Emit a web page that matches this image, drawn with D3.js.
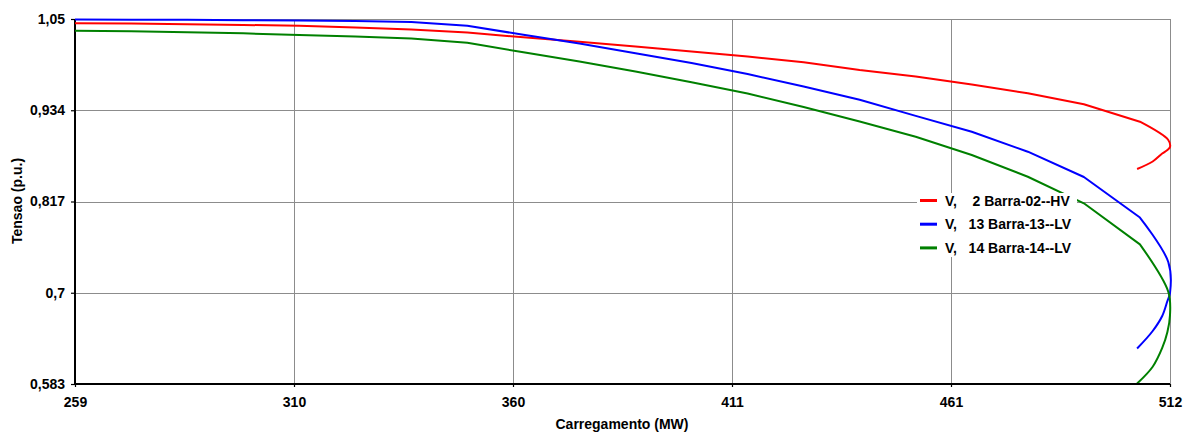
<!DOCTYPE html>
<html>
<head>
<meta charset="utf-8">
<script src="https://cdn.jsdelivr.net/npm/d3@7"></script>
<style>
  html, body { margin: 0; padding: 0; background: #ffffff; }
  svg { display: block; font-family: "Liberation Sans", Arial, sans-serif; }
  text { font-weight: bold; fill: #000; }
</style>
</head>
<body>
<svg id="chart" width="1187" height="432"></svg>
<script>
// Loading steps of the continuation power flow (MW): upper branch, nose, lower branch
const loading = [259, 271.95, 284.9, 297.85, 310.8, 323.75, 336.7, 349.65, 362.6, 375.55,
                 388.5, 401.45, 414.4, 427.35, 440.3, 453.25, 466.2, 479.15, 492.1, 505.05,
                 511.6, 512.0, 511.4, 510.2, 508.0, 504.4];

// Bus voltages (p.u.) at each loading step
const vBus02 = [1.0445, 1.0441, 1.0433, 1.0424, 1.0413, 1.0392, 1.0365, 1.0326, 1.0266, 1.0209,
                1.0149, 1.0084, 1.0020, 0.9947, 0.9847, 0.9764, 0.9662, 0.9549, 0.9409, 0.9186,
                0.8952, 0.8862, 0.8823, 0.8779, 0.8677, 0.8581];
const vBus13 = [1.0493, 1.0492, 1.0490, 1.0485, 1.0480, 1.0474, 1.0462, 1.0414, 1.0298, 1.0186,
                1.0063, 0.9937, 0.9796, 0.9636, 0.9466, 0.9261, 0.9058, 0.8802, 0.8478, 0.7960,
                0.7391, 0.6994, 0.6892, 0.6700, 0.6508, 0.6284];
const vBus14 = [1.0350, 1.0343, 1.0331, 1.0317, 1.0295, 1.0275, 1.0250, 1.0197, 1.0074, 0.9956,
                0.9827, 0.9690, 0.9547, 0.9374, 0.9188, 0.8994, 0.8760, 0.8482, 0.8142, 0.7617,
                0.7011, 0.6713, 0.6495, 0.6291, 0.6051, 0.5836];

const seriesNames = ["V,    2 Barra-02--HV", "V,   13 Barra-13--LV", "V,   14 Barra-14--LV"];
const seriesColors = ["#ff0000", "#0000ff", "#008000"];

const xTickLabels = ["259", "310", "360", "411", "461", "512"];
const yTickLabels = ["0,583", "0,7", "0,817", "0,934", "1,05"];

const xDomain = [259, 512];
const yDomain = [0.583, 1.05];

// Index of the last regular step before the nose region
const noseStart = 19;

const svg = d3.select("#chart");
const plot = { left: 75, right: 1170, top: 19, bottom: 384 };

const x = d3.scaleLinear().domain(xDomain).range([plot.left, plot.right]);
const y = d3.scaleLinear().domain(yDomain).range([plot.bottom, plot.top]);

const xTicks = xTickLabels.map((_, i) => xDomain[0] + i * (xDomain[1] - xDomain[0]) / (xTickLabels.length - 1));
const yTicks = yTickLabels.map((_, i) => yDomain[0] + i * (yDomain[1] - yDomain[0]) / (yTickLabels.length - 1));

const crisp = v => Math.round(v) + 0.5;

// Grid
const grid = svg.append("g").attr("stroke", "#8c8c8c").attr("stroke-width", 1);
grid.selectAll("line.v").data(xTicks.slice(1)).join("line")
  .attr("x1", d => crisp(x(d))).attr("x2", d => crisp(x(d)))
  .attr("y1", plot.top).attr("y2", plot.bottom);
grid.selectAll("line.h").data(yTicks.slice(1)).join("line")
  .attr("y1", d => crisp(y(d))).attr("y2", d => crisp(y(d)))
  .attr("x1", plot.left).attr("x2", plot.right);

// Axes
const xAxis = d3.axisBottom(x).tickValues(xTicks).tickSize(3).tickPadding(10)
  .tickFormat((d, i) => xTickLabels[i]);
const yAxis = d3.axisLeft(y).tickValues(yTicks).tickSize(4).tickPadding(6)
  .tickFormat((d, i) => yTickLabels[i]);

const gx = svg.append("g").attr("transform", `translate(0,${plot.bottom})`).call(xAxis);
const gy = svg.append("g").attr("transform", `translate(${plot.left},0)`).call(yAxis);
[gx, gy].forEach(g => {
  g.select(".domain").attr("stroke", "#000").attr("stroke-width", 2);
  g.selectAll(".tick line").attr("stroke", "#000").attr("stroke-width", 1.2);
  g.selectAll(".tick text").attr("font-size", 14).attr("font-weight", "bold")
    .attr("font-family", "'Liberation Sans', Arial, sans-serif").attr("fill", "#000");
});
gx.select(".domain").attr("d", `M${plot.left},0H${plot.right}`);
gy.select(".domain").attr("d", `M0,${plot.bottom}V${plot.top}`);

// Axis titles
svg.append("text")
  .attr("x", 622).attr("y", 429)
  .attr("text-anchor", "middle").attr("font-size", 14)
  .text("Carregamento (MW)");
svg.append("text")
  .attr("transform", "translate(22,201) rotate(-90)")
  .attr("text-anchor", "middle").attr("font-size", 14)
  .text("Tensao (p.u.)");

// Curves: straight segments along the regular steps, smooth around the nose
const series = [vBus02, vBus13, vBus14];
const pts = s => s.map((v, i) => [x(loading[i]), y(v)]);
const straight = d3.line().curve(d3.curveLinear);
const smooth = d3.line().curve(d3.curveCatmullRom.alpha(0.5));

svg.append("clipPath").attr("id", "plotClip").append("rect")
  .attr("x", plot.left).attr("y", plot.top - 2)
  .attr("width", plot.right - plot.left + 2).attr("height", plot.bottom - plot.top + 1);

const curves = svg.append("g").attr("clip-path", "url(#plotClip)");

series.forEach((s, i) => {
  const p = pts(s);
  const d = straight(p.slice(0, noseStart + 1)) + smooth(p.slice(noseStart)).replace(/^M[^A-Za-z]*/, "");
  curves.append("path")
    .attr("d", d)
    .attr("fill", "none")
    .attr("stroke", seriesColors[i])
    .attr("stroke-width", 2)
    .attr("stroke-linejoin", "round");
});

// Legend on an opaque white panel
const legend = svg.append("g").attr("transform", "translate(917,193)");
legend.append("rect").attr("x", 0).attr("y", 0).attr("width", 160).attr("height", 64)
  .attr("fill", "#ffffff");

const items = legend.selectAll("g.item").data(seriesNames).join("g")
  .attr("transform", (d, i) => `translate(0,${7.5 + i * 23.7})`);
items.append("line")
  .attr("x1", 3).attr("x2", 20).attr("y1", 0).attr("y2", 0)
  .attr("stroke", (d, i) => seriesColors[i]).attr("stroke-width", 3);
items.append("text")
  .attr("x", 28).attr("y", 5)
  .attr("font-size", 14)
  .style("white-space", "pre")
  .attr("xml:space", "preserve")
  .text(d => d);
</script>
</body>
</html>
